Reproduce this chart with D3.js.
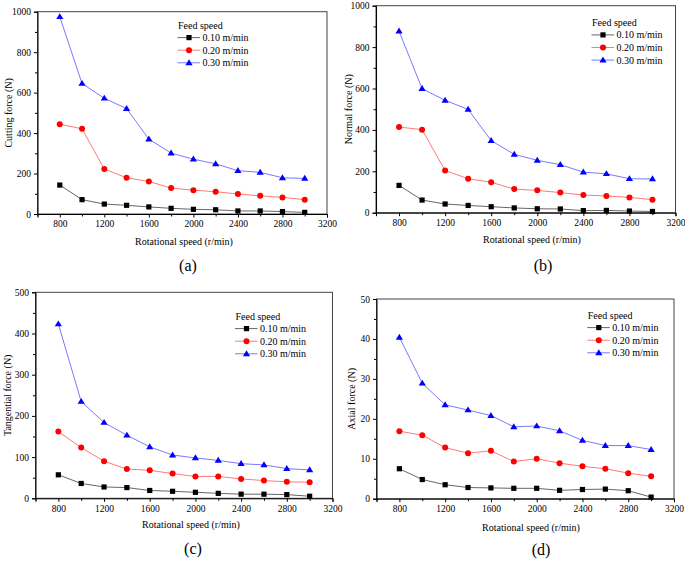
<!DOCTYPE html>
<html><head><meta charset="utf-8">
<script src="https://cdn.jsdelivr.net/npm/d3@7"></script>
<style>
body{margin:0;background:#fff}
svg{display:block}
text{font-family:"Liberation Serif","Times New Roman",serif;fill:#000}
</style></head>
<body><svg id="chart" width="685" height="561"></svg>
<script>
// ---------- data ----------
const speeds = [800,1000,1200,1400,1600,1800,2000,2200,2400,2600,2800,3000];
const seriesLabels = ["0.10 m/min","0.20 m/min","0.30 m/min"];
const legendTitle = "Feed speed";
const xTicks = [800,1200,1600,2000,2400,2800,3200];

const cutting010 = [143,71,49,43,35,28,23,21,15,15,12,8];
const cutting020 = [444,421,222,179,161,128,118,110,99,90,82,71];
const cutting030 = [975,645,572,521,370,301,271,248,214,206,179,176];

const normal010 = [132,61,42,35,29,23,19,18,10,11,8,6];
const normal020 = [414,401,204,164,147,114,108,97,85,81,74,63];
const normal030 = [877,599,543,499,348,282,253,232,196,188,164,163];

const tangential010 = [57,36,27.5,26,19,17,14.6,12,10,10,9,5];
const tangential020 = [162,123,90,71,68,60,53,53,47,43,40,39];
const tangential030 = [423,235,184,153,125,105,98,92,84,81,72,69];

const axial010 = [7.5,4.8,3.5,2.8,2.7,2.6,2.6,2.1,2.3,2.4,2.0,0.4];
const axial020 = [16.9,15.9,12.8,11.4,12.0,9.3,10.0,8.9,8.1,7.5,6.4,5.6];
const axial030 = [40.4,28.9,23.5,22.2,20.8,18.0,18.2,17.0,14.6,13.3,13.3,12.3];

// ---------- layout ----------
const colors = ["#000000","#ff0000","#0000ff"];
const lineColors = ["#555555","#ff6a6a","#6a6aff"];
const panels = [
  {box:{x0:37.5,x1:327,y0:11.7,y1:214}, yMax:1000, yStep:200, title:"Cutting force (N)", titleX:8,
   series:[cutting010,cutting020,cutting030], tag:"(a)", tagX:188, tagY:265, xlabY:241, xlabX:184,
   leg:{x:177.5,y:25}},
  {box:{x0:376,x1:675.5,y0:5.7,y1:212.7}, yMax:1000, yStep:200, title:"Normal force (N)", titleX:348.5,
   series:[normal010,normal020,normal030], tag:"(b)", tagX:543, tagY:265, xlabY:239, xlabX:532,
   leg:{x:591.5,y:22.3}},
  {box:{x0:35.5,x1:332.5,y0:292.3,y1:498.3}, yMax:500, yStep:100, title:"Tangential force (N)", titleX:7.5,
   series:[tangential010,tangential020,tangential030], tag:"(c)", tagX:193, tagY:548, xlabY:524, xlabX:191,
   leg:{x:235,y:316}},
  {box:{x0:376.5,x1:674,y0:299,y1:498.7}, yMax:50, yStep:10, title:"Axial force (N)", titleX:351.5,
   series:[axial010,axial020,axial030], tag:"(d)", tagX:541, tagY:549, xlabY:527, xlabX:531,
   leg:{x:587.3,y:315}}
];

const svg = d3.select("#chart");

function marker(g, i, x, y) {
  if (i === 0) {
    g.append("rect").attr("x", x-2.6).attr("y", y-2.6).attr("width", 5.2).attr("height", 5.2).attr("fill", colors[0]);
  } else if (i === 1) {
    g.append("circle").attr("cx", x).attr("cy", y).attr("r", 3).attr("fill", colors[1]);
  } else {
    const s = 3.6;
    g.append("path").attr("d", `M${x},${y-s}L${x+s},${y+s*0.65}L${x-s},${y+s*0.65}Z`).attr("fill", colors[2]);
  }
}

panels.forEach(p => {
  const b = p.box;
  const x = d3.scaleLinear().domain([600,3200]).range([b.x0,b.x1]);
  const y = d3.scaleLinear().domain([0,p.yMax]).range([b.y1,b.y0]);
  const g = svg.append("g");

  // frame
  g.append("rect").attr("x", b.x0).attr("y", b.y0).attr("width", b.x1-b.x0).attr("height", b.y1-b.y0)
    .attr("fill","none").attr("stroke","#444").attr("stroke-width",1);

  // minor ticks
  const xMinor = d3.range(600,3201,200).filter(v => !xTicks.includes(v));
  g.append("g").attr("transform",`translate(0,${b.y1})`)
    .call(d3.axisBottom(x).tickValues(xMinor).tickSize(2.5).tickFormat(""))
    .call(a => a.select(".domain").remove());
  const yMinor = d3.range(p.yStep/2, p.yMax, p.yStep);
  g.append("g").attr("transform",`translate(${b.x0},0)`)
    .call(d3.axisLeft(y).tickValues(yMinor).tickSize(2.5).tickFormat(""))
    .call(a => a.select(".domain").remove());

  // major axes
  const xa = g.append("g").attr("transform",`translate(0,${b.y1})`)
    .call(d3.axisBottom(x).tickValues(xTicks).tickSize(3.5).tickPadding(3).tickFormat(d3.format("d")));
  const ya = g.append("g").attr("transform",`translate(${b.x0},0)`)
    .call(d3.axisLeft(y).tickValues(d3.range(0,p.yMax+1,p.yStep)).tickSize(3.5).tickPadding(3).tickFormat(d3.format("d")));
  [xa,ya].forEach(a => {
    a.select(".domain").attr("stroke","#000");
    a.selectAll("text").attr("font-size",9.5).attr("font-family","Liberation Serif");
    a.selectAll("line").attr("stroke","#000");
  });
  g.selectAll(".tick line").attr("stroke","#000");

  // titles
  g.append("text").attr("transform",`translate(${p.titleX},${(b.y0+b.y1)/2}) rotate(-90)`)
    .attr("text-anchor","middle").attr("dominant-baseline","central").attr("font-size",10).text(p.title);
  g.append("text").attr("x",p.xlabX).attr("y",p.xlabY).attr("text-anchor","middle")
    .attr("dominant-baseline","central").attr("font-size",10).text("Rotational speed (r/min)");
  g.append("text").attr("x",p.tagX).attr("y",p.tagY).attr("text-anchor","middle")
    .attr("dominant-baseline","central").attr("font-size",16).text(p.tag);

  // series
  p.series.forEach((vals,i) => {
    const line = d3.line().x((d,j) => x(speeds[j])).y(d => y(d));
    g.append("path").attr("d", line(vals)).attr("fill","none")
      .attr("stroke", lineColors[i]).attr("stroke-width",0.9);
    const mg = g.append("g");
    vals.forEach((v,j) => marker(mg, i, x(speeds[j]), y(v)));
  });

  // legend
  const L = p.leg;
  g.append("text").attr("x",L.x+0.5).attr("y",L.y).attr("dominant-baseline","central")
    .attr("font-size",10).text(legendTitle);
  seriesLabels.forEach((lab,i) => {
    const ry = L.y + 12.6*(i+1);
    g.append("line").attr("x1",L.x).attr("x2",L.x+22.5).attr("y1",ry).attr("y2",ry)
      .attr("stroke",lineColors[i]).attr("stroke-width",0.9);
    marker(g, i, L.x+11.5, ry);
    g.append("text").attr("x",L.x+25).attr("y",ry).attr("dominant-baseline","central")
      .attr("font-size",10).text(lab);
  });
});
</script></body></html>
